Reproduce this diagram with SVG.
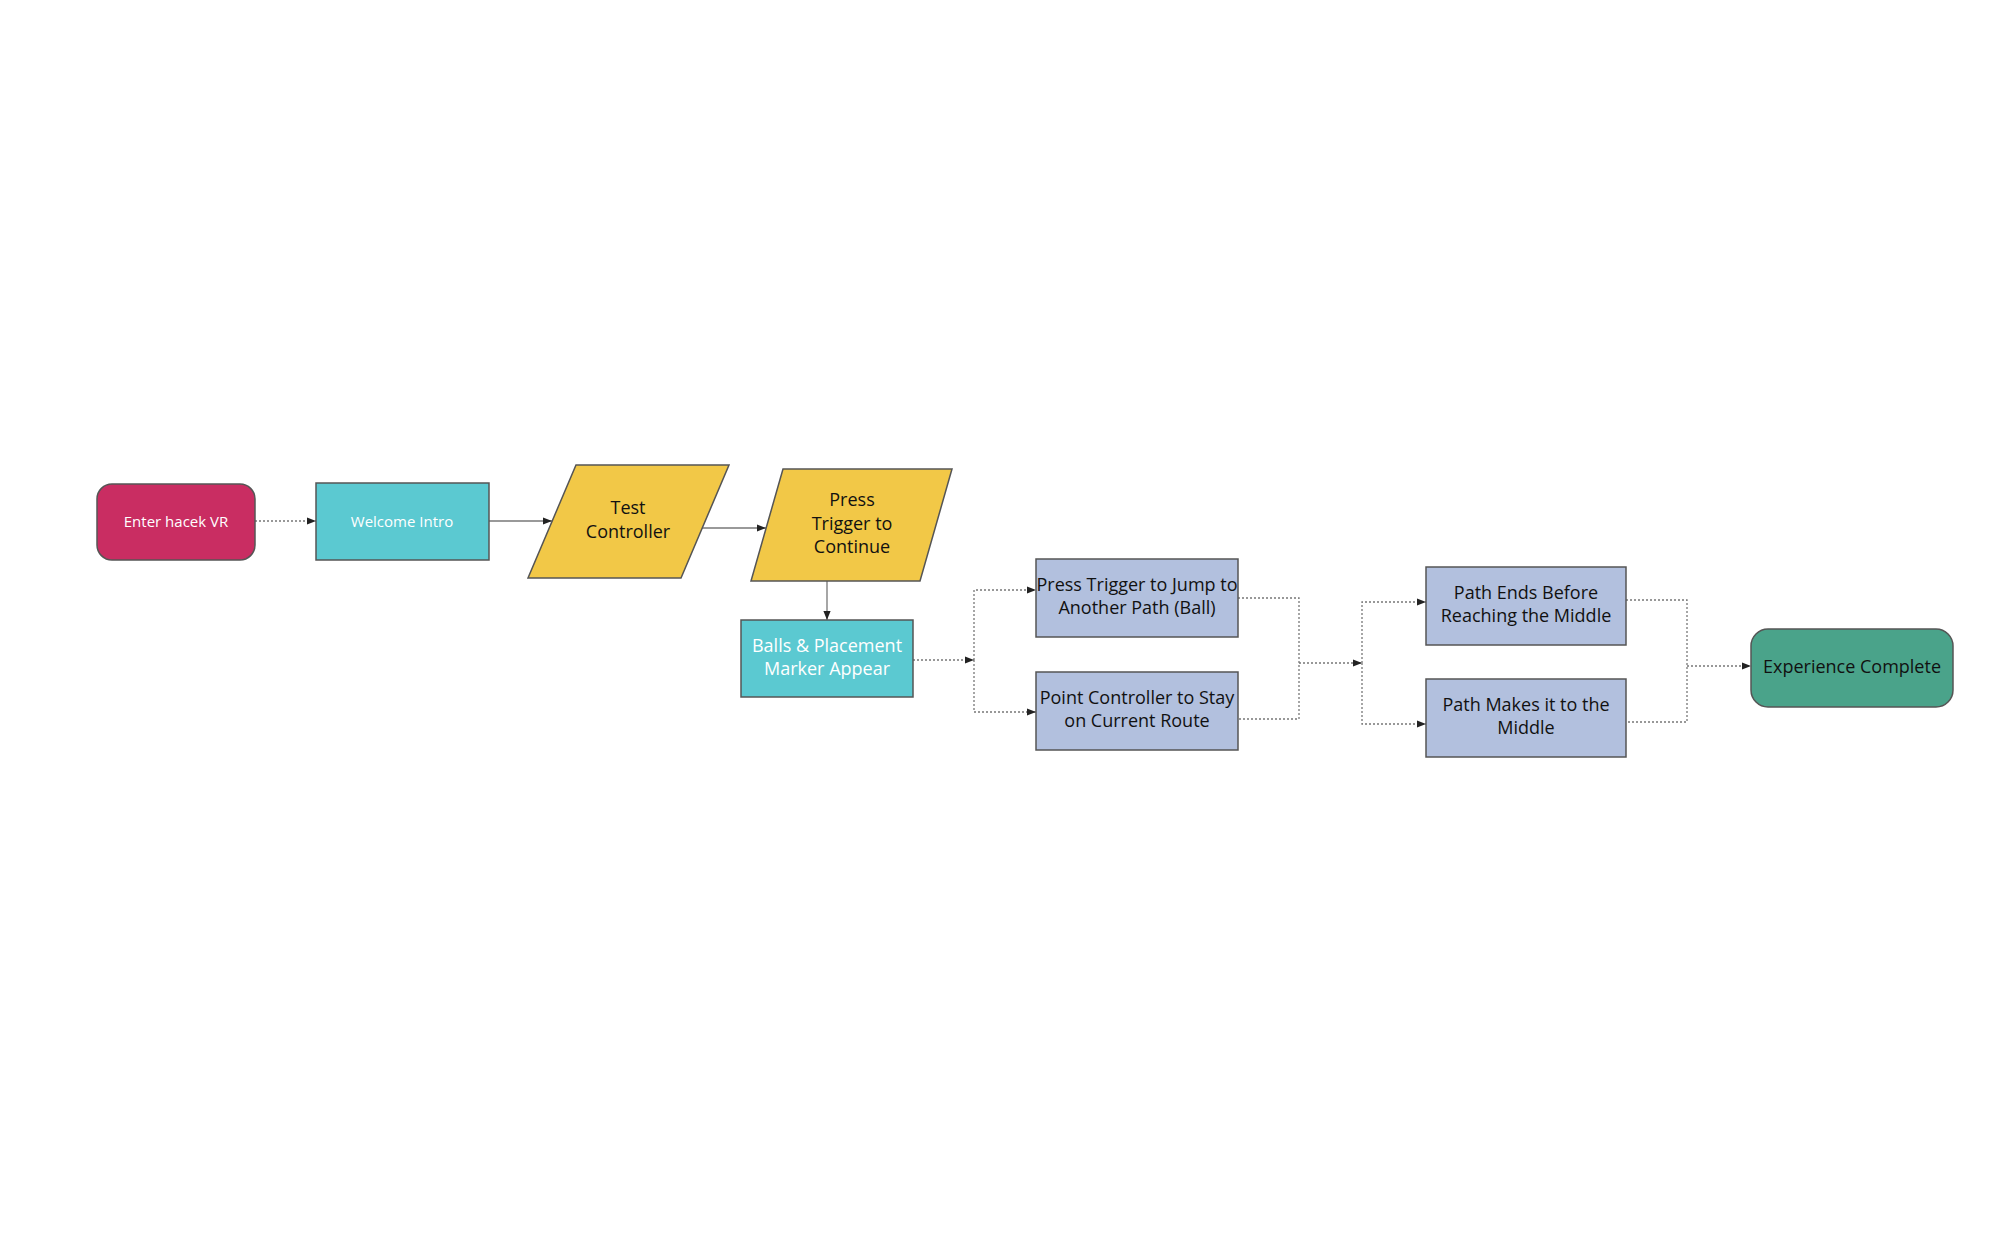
<svg xmlns="http://www.w3.org/2000/svg" width="2014" height="1258" viewBox="0 0 2014 1258">
<style>
text{font-family:"Open Sans","Noto Sans",sans-serif;text-anchor:middle;}
.n{stroke:#555;stroke-width:1.5}
.c{fill:none;stroke:#777;stroke-width:1.3}
.d{stroke-dasharray:2 2}
.w{fill:#fff;font-size:15px}
.k{fill:#111;font-size:18px}
</style>
<defs><marker id="a" viewBox="0 0 10 10" refX="10" refY="5" markerWidth="7" markerHeight="7" orient="auto"><path d="M0,1 L10,5 L0,9Z" fill="#222"/></marker></defs>
<rect width="2014" height="1258" fill="#fff"/>
<g id="connectors">
<path class="c d" d="M255,521 H316" marker-end="url(#a)"/>
<path class="c" d="M489,521 H552" marker-end="url(#a)"/>
<path class="c" d="M702,528 H766" marker-end="url(#a)"/>
<path class="c" d="M827,581 V620" marker-end="url(#a)"/>
<path class="c d" d="M913,660 H974" marker-end="url(#a)"/>
<path class="c d" d="M974,660 V590 H1036" marker-end="url(#a)"/>
<path class="c d" d="M974,660 V712 H1036" marker-end="url(#a)"/>
<path class="c d" d="M1238,598 H1299 V719 H1238"/>
<path class="c d" d="M1299,663 H1362" marker-end="url(#a)"/>
<path class="c d" d="M1362,663 V602 H1426" marker-end="url(#a)"/>
<path class="c d" d="M1362,663 V724 H1426" marker-end="url(#a)"/>
<path class="c d" d="M1626,600 H1687 V722 H1626"/>
<path class="c d" d="M1687,666 H1751" marker-end="url(#a)"/>
</g>
<g id="enter"><rect class="n" x="97" y="484" width="158" height="76" rx="15" fill="#c92d62"/><text class="w" x="176" y="527">Enter hacek VR</text></g>
<g id="welcome"><rect class="n" x="316" y="483" width="173" height="77" fill="#5bc9d1"/><text class="w" x="402" y="527">Welcome Intro</text></g>
<g id="test"><polygon class="n" points="576,465 729,465 681,578 528,578" fill="#f2c847"/><text class="k" x="628" y="514">Test</text><text class="k" x="628" y="538">Controller</text></g>
<g id="press"><polygon class="n" points="783,469 952,469 920,581 751,581" fill="#f2c847"/><text class="k" x="852" y="506">Press</text><text class="k" x="852" y="530">Trigger to</text><text class="k" x="852" y="553">Continue</text></g>
<g id="balls"><rect class="n" x="741" y="620" width="172" height="77" fill="#5bc9d1"/><text x="827" y="652" style="fill:#fff;font-size:18px">Balls &amp; Placement</text><text x="827" y="675" style="fill:#fff;font-size:18px">Marker Appear</text></g>
<g id="jump"><rect class="n" x="1036" y="559" width="202" height="78" fill="#b2c0de"/><text class="k" x="1137" y="591">Press Trigger to Jump to</text><text class="k" x="1137" y="614">Another Path (Ball)</text></g>
<g id="point"><rect class="n" x="1036" y="672" width="202" height="78" fill="#b2c0de"/><text class="k" x="1137" y="704">Point Controller to Stay</text><text class="k" x="1137" y="727">on Current Route</text></g>
<g id="ends"><rect class="n" x="1426" y="567" width="200" height="78" fill="#b2c0de"/><text class="k" x="1526" y="599">Path Ends Before</text><text class="k" x="1526" y="622">Reaching the Middle</text></g>
<g id="makes"><rect class="n" x="1426" y="679" width="200" height="78" fill="#b2c0de"/><text class="k" x="1526" y="711">Path Makes it to the</text><text class="k" x="1526" y="734">Middle</text></g>
<g id="complete"><rect class="n" x="1751" y="629" width="202" height="78" rx="17" fill="#4aa38a" stroke="#333"/><text class="k" x="1852" y="673">Experience Complete</text></g>
</svg>
